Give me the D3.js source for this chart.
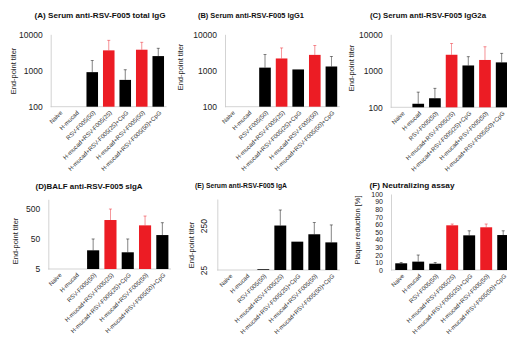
<!DOCTYPE html>
<html><head><meta charset="utf-8">
<script src="https://cdn.jsdelivr.net/npm/d3@7"></script>
<style>body{margin:0;background:#fff}svg{display:block}</style>
</head><body><svg id="c" width="507" height="343"></svg>
<script>
const categories = ["Naive","H-mucad","RSV-F005(50)","H-mucad+RSV-F005(25)","H-mucad+RSV-F005(25)+CpG","H-mucad+RSV-F005(50)","H-mucad+RSV-F005(50)+CpG"];
const titles = ["(A) Serum anti-RSV-F005 total IgG","(B) Serum anti-RSV-F005 IgG1","(C) Serum anti-RSV-F005 IgG2a","(D)BALF anti-RSV-F005 sIgA","(E) Serum anti-RSV-F005 IgA","(F) Neutralizing assay"];
const yLabels = ["End-point titer","End-point titer","End-point titer","End-point titer","End-point titer","Plaque reduction [%]"];
const valuesA = [100,100,900,3600,550,3750,2500];
const errTopA = [100,100,1900,6800,1050,6000,4100];
const valuesB = [100,100,1200,2150,1070,2700,1290];
const errTopB = [100,100,2780,4200,1070,4900,2440];
const valuesC = [100,125,177,2750,1400,1980,1700];
const errTopC = [100,260,330,5600,2440,4560,3000];
const valuesD = [5,5,20.7,207,17.8,138,66];
const errTopD = [5,5,49,477,49,280,169];
const valuesE = [25,25,26,252,109,160,105];
const errTopE = [25,25,26,565,109,294,260];
const valuesF = [8.8,11,8.3,58.8,45.6,56.2,46];
const errTopF = [10,19.7,10,60.5,51.6,60.5,51.6];
const ticksA = [100,1000,10000], ticksB = [100,1000,10000], ticksC = [100,1000,10000];
const ticksD = [5,50,500], ticksE = [25,250], ticksF = [0,10,20,30,40,50,60,70,80,90,100];
const redA = [3,5], redB = [3,5], redC = [3,5], redD = [3,5], redE = [], redF = [3,5];

const RED = "#ec1c24", BLACK = "#000";
const FONT = "Liberation Sans, Arial, sans-serif";
const svg = d3.select("#c");

const panels = [
 {v:valuesA,e:errTopA,t:ticksA,red:redA,log:true,dom:[100,10000],ax:50.7,bx:[51,166.5],y:[106.7,34.3],tx:100,ty:17.5,tw:131,lx:13,ly:71,fs:8.5},
 {v:valuesB,e:errTopB,t:ticksB,red:redB,log:true,dom:[100,10000],ax:225,bx:[223.5,339.7],y:[106.7,34.3],tx:251,ty:17.5,tw:106,lx:180,ly:67,fs:8.5},
 {v:valuesC,e:errTopC,t:ticksC,red:redC,log:true,dom:[100,10000],ax:390.7,bx:[393.2,510],y:[107.3,34.3],tx:428,ty:17.5,tw:116,lx:351,ly:68,fs:8.5},
 {v:valuesD,e:errTopD,t:ticksD,red:redD,log:true,dom:[5,1000],ax:48.3,bx:[49.9,171],y:[269,199.3],tx:89,ty:188.5,tw:107,lx:15,ly:241,fs:8.5},
 {v:valuesE,e:errTopE,t:ticksE,red:redE,log:true,dom:[25,1000],ax:217.3,bx:[220.8,339.8],y:[270,199],tx:241,ty:188,tw:92,lx:191.5,ly:245,rotTicks:true,fs:8.5},
 {v:valuesF,e:errTopF,t:ticksF,red:redF,log:false,dom:[0,100],ax:391,bx:[392.7,511.7],y:[270,194],tx:412,ty:188,tw:85,lx:357,ly:230,fs:7}
];

panels.forEach((p,pi)=>{
  const g = svg.append("g");
  const x = d3.scaleBand().domain(categories).range(p.bx).paddingInner(0.3).paddingOuter(0.15);
  const y = (p.log ? d3.scaleLog() : d3.scaleLinear()).domain(p.dom).range(p.y);
  const yAxis = d3.axisLeft(y).tickValues(p.t).tickFormat(d3.format("d")).tickSize(0).tickPadding(8);
  const ya = g.append("g").attr("transform",`translate(${p.ax},0)`).call(yAxis);
  ya.select(".domain").attr("stroke","#c8c8c8").attr("stroke-width",0.8);
  ya.selectAll("text").attr("font-family",FONT).attr("font-size",p.fs).attr("fill","#222");
  if(p.rotTicks){
    ya.selectAll(".tick text").attr("text-anchor","middle").attr("dy","0").attr("x",0)
      .attr("transform","translate(-10,0) rotate(-90)");
  }
  const xa = g.append("g").attr("transform",`translate(0,${p.y[0]})`)
    .call(d3.axisBottom(x).tickSize(0).tickFormat(""));
  xa.select(".domain").attr("stroke","#c8c8c8").attr("stroke-width",0.8)
    .attr("d",`M${p.ax},0H${p.bx[1]}`);
  g.selectAll(".xl").data(categories).enter().append("text")
    .attr("transform",d=>`translate(${x(d)+x.bandwidth()/2+2},${p.y[0]+5}) rotate(-45)`)
    .attr("text-anchor","end").attr("dy","0.35em")
    .attr("font-family",FONT).attr("font-size",6).attr("fill","#333")
    .text(d=>d);
  const base = p.dom[0];
  categories.forEach((c,i)=>{
    const col = p.red.includes(i) ? RED : BLACK;
    const v = p.v[i];
    if(v>base){
      g.append("rect").attr("x",x(c)).attr("width",x.bandwidth())
        .attr("y",y(v)).attr("height",y(base)-y(v)).attr("fill",col);
    }
    const et = p.e[i];
    if(et>v){
      const cx = x(c)+x.bandwidth()/2;
      g.append("line").attr("x1",cx).attr("x2",cx).attr("y1",y(v)).attr("y2",y(et))
        .attr("stroke",col).attr("stroke-width",0.8).attr("opacity",0.6);
      g.append("line").attr("x1",cx-1.5).attr("x2",cx+1.5).attr("y1",y(et)).attr("y2",y(et))
        .attr("stroke",col).attr("stroke-width",0.8).attr("opacity",0.6);
    }
  });
  g.append("text").attr("x",p.tx).attr("y",p.ty).attr("text-anchor","middle")
    .attr("font-family",FONT).attr("font-weight","bold").attr("font-size",7.5)
    .attr("textLength",p.tw).attr("lengthAdjust","spacingAndGlyphs").attr("fill","#111")
    .text(titles[pi]);
  g.append("text").attr("transform",`translate(${p.lx},${p.ly}) rotate(-90)`).attr("text-anchor","middle")
    .attr("dy","0.35em")
    .attr("font-family",FONT).attr("font-size",7.5).attr("fill","#222")
    .text(yLabels[pi]);
});
</script></body></html>
